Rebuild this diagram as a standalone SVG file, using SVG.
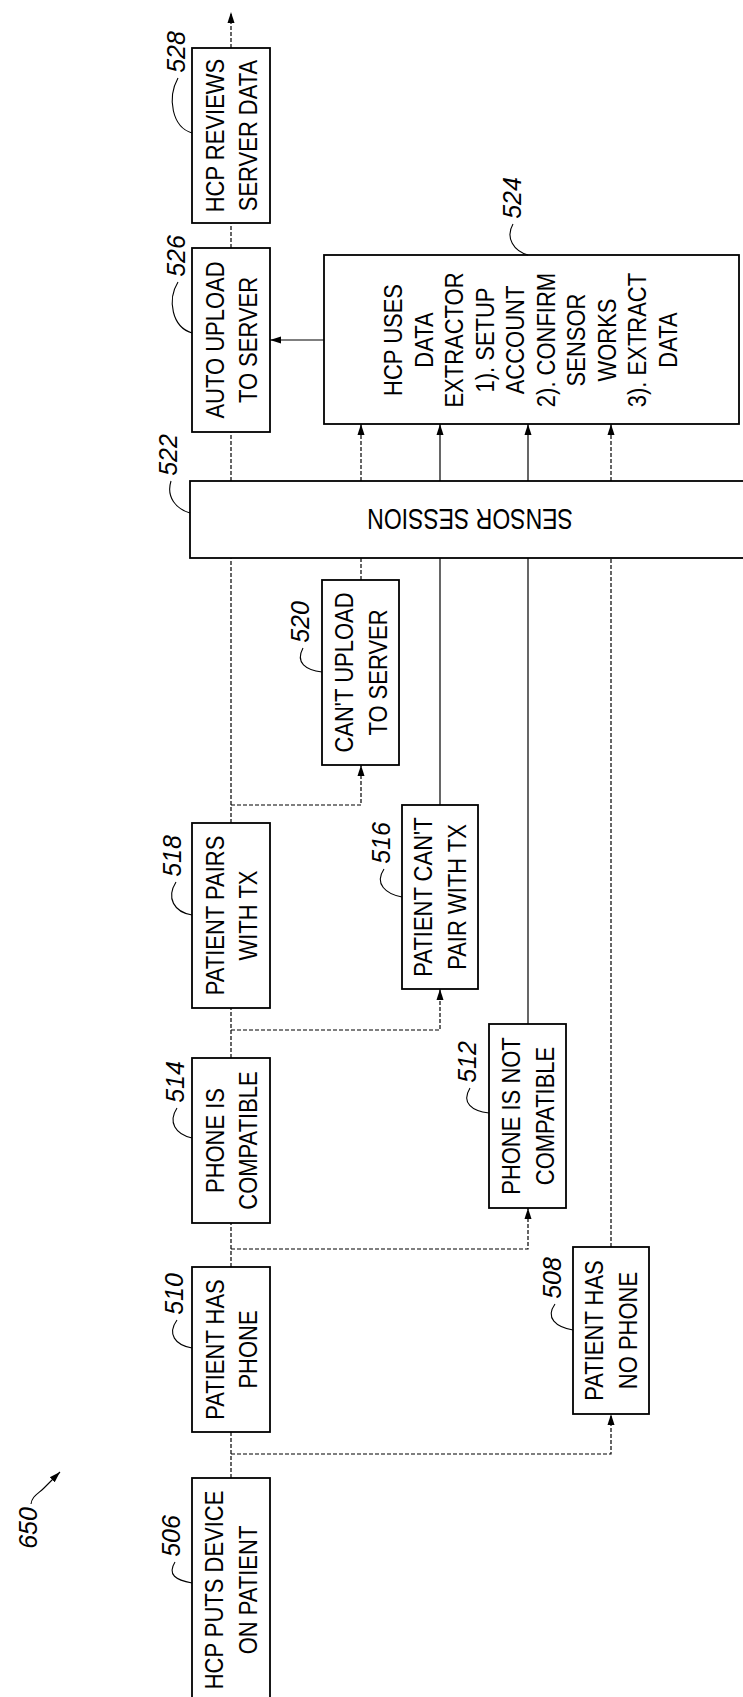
<svg xmlns="http://www.w3.org/2000/svg" width="743" height="1697" viewBox="0 0 743 1697">
<defs>
<style>
.box{fill:#fff;stroke:#000;stroke-width:1.8}
.t{font-family:"Liberation Sans",Arial,sans-serif;font-size:22px;text-anchor:middle;fill:#000}
.n{font-family:"Liberation Sans",Arial,sans-serif;font-style:italic;font-size:25px;text-anchor:middle;fill:#000}
.d{fill:none;stroke:#000;stroke-width:1.2;stroke-dasharray:4 2}
.s{fill:none;stroke:#000;stroke-width:1.2}
.ld{fill:none;stroke:#000;stroke-width:1.1}
</style>
<marker id="ah" markerUnits="userSpaceOnUse" markerWidth="12" markerHeight="9" refX="11" refY="4.5" orient="auto"><path d="M0,1 L11,4.5 L0,8 z" fill="#000"/></marker>
</defs>
<rect width="743" height="1697" fill="#fff"/>

<g id="connectors">
<path class="d" d="M231,1478 V1432"/>
<path class="d" d="M231,1267 V1223"/>
<path class="d" d="M231,1058 V1008"/>
<path class="d" d="M231,823 V558"/>
<path class="d" d="M231,481 V432"/>
<path class="d" d="M231,248 V223"/>
<path class="d" d="M231,48 V12" marker-end="url(#ah)"/>
<path class="d" d="M231,1454 H611 V1414" marker-end="url(#ah)"/>
<path class="d" d="M231,1249 H528 V1208" marker-end="url(#ah)"/>
<path class="d" d="M231,1030 H440 V989" marker-end="url(#ah)"/>
<path class="d" d="M231,805 H361 V765" marker-end="url(#ah)"/>
<path class="d" d="M611,1247 V558"/>
<path class="s" d="M528,1024 V558"/>
<path class="s" d="M440,805 V558"/>
<path class="d" d="M361,580 V558"/>
<path class="d" d="M361,481 V424" marker-end="url(#ah)"/>
<path class="s" d="M440,481 V424" marker-end="url(#ah)"/>
<path class="s" d="M528,481 V424" marker-end="url(#ah)"/>
<path class="d" d="M611,481 V424" marker-end="url(#ah)"/>
<path class="s" d="M324,340 H270" marker-end="url(#ah)"/>
</g>

<g id="fig650">
<text class="n" transform="translate(28,1528) rotate(-90)" y="8.5">650</text>
<path class="ld" d="M31,1504 C32,1496 38,1494 44,1488 S54,1478 60,1472" marker-end="url(#ah)"/>
</g>

<g id="n528">
<rect class="box" x="192" y="48" width="78" height="175"/>
<text class="t" transform="translate(214.5,135.5) rotate(-90) scale(1,1.2)" y="7.9">HCP REVIEWS</text>
<text class="t" transform="translate(247.5,135.5) rotate(-90) scale(1,1.2)" y="7.9">SERVER DATA</text>
<text class="n" transform="translate(176,52) rotate(-90)" y="8.5">528</text>
<path class="ld" d="M178,78 C167,98 172,127 192,133"/>
</g>

<g id="n526">
<rect class="box" x="192" y="248" width="78" height="184"/>
<text class="t" transform="translate(214.5,340) rotate(-90) scale(1,1.2)" y="7.9">AUTO UPLOAD</text>
<text class="t" transform="translate(247.5,340) rotate(-90) scale(1,1.2)" y="7.9">TO SERVER</text>
<text class="n" transform="translate(176,256) rotate(-90)" y="8.5">526</text>
<path class="ld" d="M178,282 C167,300 172,327 192,333"/>
</g>

<g id="n524">
<rect class="box" x="324" y="255" width="415" height="169"/>
<text class="t" transform="translate(393,340) rotate(-90) scale(1,1.2)" y="7.9">HCP USES</text>
<text class="t" transform="translate(423.5,340) rotate(-90) scale(1,1.2)" y="7.9">DATA</text>
<text class="t" transform="translate(454,340) rotate(-90) scale(1,1.2)" y="7.9">EXTRACTOR</text>
<text class="t" transform="translate(484.5,340) rotate(-90) scale(1,1.2)" y="7.9">1). SETUP</text>
<text class="t" transform="translate(515,340) rotate(-90) scale(1,1.2)" y="7.9">ACCOUNT</text>
<text class="t" transform="translate(545.5,340) rotate(-90) scale(1,1.2)" y="7.9">2). CONFIRM</text>
<text class="t" transform="translate(576,340) rotate(-90) scale(1,1.2)" y="7.9">SENSOR</text>
<text class="t" transform="translate(606.5,340) rotate(-90) scale(1,1.2)" y="7.9">WORKS</text>
<text class="t" transform="translate(637,340) rotate(-90) scale(1,1.2)" y="7.9">3). EXTRACT</text>
<text class="t" transform="translate(667.5,340) rotate(-90) scale(1,1.2)" y="7.9">DATA</text>
<text class="n" transform="translate(512,198) rotate(-90)" y="8.5">524</text>
<path class="ld" d="M513,224 C505,238 514,251 528,255"/>
</g>

<g id="n522">
<rect class="box" x="190" y="481" width="570" height="77"/>
<text class="t" transform="translate(470,520) rotate(180) scale(1,1.3)" style="font-size:23px" y="8.2">SENSOR SESSION</text>
<text class="n" transform="translate(168,455) rotate(-90)" y="8.5">522</text>
<path class="ld" d="M171,481 C166,497 176,509 190,513"/>
</g>

<g id="n520">
<rect class="box" x="322" y="580" width="77" height="185"/>
<text class="t" transform="translate(343.5,672.5) rotate(-90) scale(1,1.2)" y="7.9">CAN'T UPLOAD</text>
<text class="t" transform="translate(377.5,672.5) rotate(-90) scale(1,1.2)" y="7.9">TO SERVER</text>
<text class="n" transform="translate(300,622) rotate(-90)" y="8.5">520</text>
<path class="ld" d="M303,648 C295,663 306,670 322,672"/>
</g>

<g id="n518">
<rect class="box" x="192" y="823" width="78" height="185"/>
<text class="t" transform="translate(214.5,915.5) rotate(-90) scale(1,1.2)" y="7.9">PATIENT PAIRS</text>
<text class="t" transform="translate(247.5,915.5) rotate(-90) scale(1,1.2)" y="7.9">WITH TX</text>
<text class="n" transform="translate(172,856) rotate(-90)" y="8.5">518</text>
<path class="ld" d="M176,882 C166,898 174,912 192,915"/>
</g>

<g id="n516">
<rect class="box" x="402" y="805" width="76" height="184"/>
<text class="t" transform="translate(423,897) rotate(-90) scale(1,1.2)" y="7.9">PATIENT CAN'T</text>
<text class="t" transform="translate(457,897) rotate(-90) scale(1,1.2)" y="7.9">PAIR WITH TX</text>
<text class="n" transform="translate(381,843) rotate(-90)" y="8.5">516</text>
<path class="ld" d="M384,869 C374,884 386,894 402,897"/>
</g>

<g id="n514">
<rect class="box" x="192" y="1058" width="78" height="165"/>
<text class="t" transform="translate(214.5,1140.5) rotate(-90) scale(1,1.2)" y="7.9">PHONE IS</text>
<text class="t" transform="translate(247.5,1140.5) rotate(-90) scale(1,1.2)" y="7.9">COMPATIBLE</text>
<text class="n" transform="translate(175,1082) rotate(-90)" y="8.5">514</text>
<path class="ld" d="M177,1108 C168,1122 175,1134 192,1138"/>
</g>

<g id="n512">
<rect class="box" x="489" y="1024" width="77" height="184"/>
<text class="t" transform="translate(510.5,1116) rotate(-90) scale(1,1.2)" y="7.9">PHONE IS NOT</text>
<text class="t" transform="translate(544.5,1116) rotate(-90) scale(1,1.2)" y="7.9">COMPATIBLE</text>
<text class="n" transform="translate(467,1062) rotate(-90)" y="8.5">512</text>
<path class="ld" d="M470,1088 C461,1103 472,1111 489,1113"/>
</g>

<g id="n510">
<rect class="box" x="192" y="1267" width="78" height="165"/>
<text class="t" transform="translate(214.5,1349.5) rotate(-90) scale(1,1.2)" y="7.9">PATIENT HAS</text>
<text class="t" transform="translate(247.5,1349.5) rotate(-90) scale(1,1.2)" y="7.9">PHONE</text>
<text class="n" transform="translate(174,1294) rotate(-90)" y="8.5">510</text>
<path class="ld" d="M177,1320 C167,1334 175,1345 192,1348"/>
</g>

<g id="n508">
<rect class="box" x="573" y="1247" width="76" height="167"/>
<text class="t" transform="translate(594,1330.5) rotate(-90) scale(1,1.2)" y="7.9">PATIENT HAS</text>
<text class="t" transform="translate(628,1330.5) rotate(-90) scale(1,1.2)" y="7.9">NO PHONE</text>
<text class="n" transform="translate(552,1278) rotate(-90)" y="8.5">508</text>
<path class="ld" d="M555,1304 C545,1318 556,1327 573,1330"/>
</g>

<g id="n506">
<rect class="box" x="192" y="1478" width="78" height="240"/>
<text class="t" transform="translate(213.5,1590) rotate(-90) scale(1,1.2)" y="7.9">HCP PUTS DEVICE</text>
<text class="t" transform="translate(248,1590) rotate(-90) scale(1,1.2)" y="7.9">ON PATIENT</text>
<text class="n" transform="translate(171,1536) rotate(-90)" y="8.5">506</text>
<path class="ld" d="M175,1562 C167,1575 176,1580 192,1583"/>
</g>
</svg>
